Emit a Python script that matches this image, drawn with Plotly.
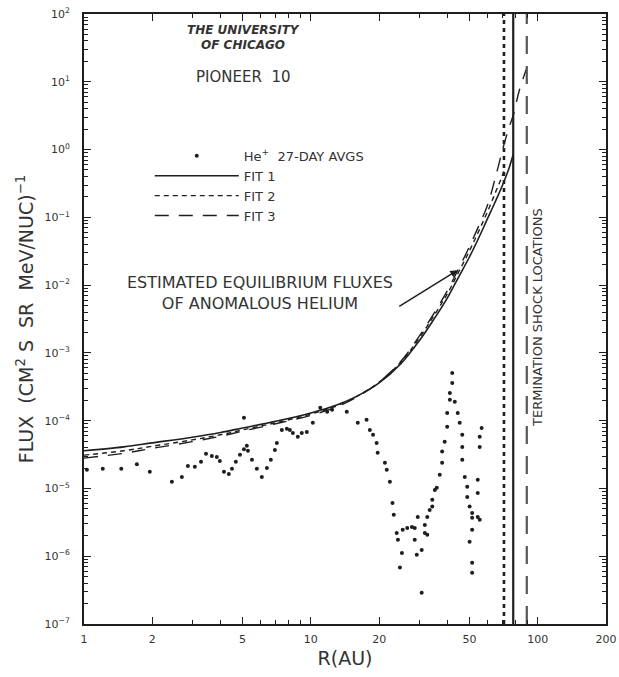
import plotly.graph_objects as go

# ---------------- data ----------------
he_r = [1.03, 1.21, 1.46, 1.71, 1.95, 2.44, 2.70, 2.87, 3.08, 3.28, 3.45, 3.66, 3.85, 3.97,
        4.14, 4.35, 4.49, 4.67, 4.87, 5.07, 5.22, 5.28, 5.50, 5.78, 6.08, 6.40, 6.66, 6.94,
        7.08, 7.45, 5.07,
        7.84, 8.08, 8.33, 8.76, 9.12, 9.60, 10.2, 11.0, 11.8, 12.4, 14.4, 16.1, 17.6, 18.2,
        18.8, 19.5, 19.7, 21.2, 21.6, 22.3, 22.9, 23.2, 23.9, 24.2, 24.7, 25.2, 25.4, 26.6,
        27.9, 28.7, 29.3, 29.6, 28.7, 30.8, 30.8, 31.8, 32.6, 32.6, 33.4, 34.3, 34.3, 35.2,
        31.8,
        35.9, 37.0, 37.9, 37.9, 38.9, 39.9, 39.9, 41.0, 41.0, 42.0, 42.0,
        43.1, 44.4, 45.3, 46.5, 46.5, 46.5, 47.7, 48.9, 48.9, 50.1, 51.4, 51.4, 54.4, 55.5,
        51.4, 50.1, 51.4, 51.4,
        56.6, 55.5, 55.5, 54.4, 54.4]
he_flux = [1.88e-5, 1.95e-5, 1.95e-5, 2.27e-5, 1.76e-5, 1.26e-5, 1.48e-5, 2.15e-5, 2.09e-5,
           2.47e-5, 3.24e-5, 3.0e-5, 2.9e-5, 2.55e-5, 1.76e-5, 1.64e-5, 1.95e-5, 2.47e-5,
           3.13e-5, 3.8e-5, 4.25e-5, 3.6e-5, 2.64e-5, 1.95e-5, 1.48e-5, 2.0e-5, 2.64e-5,
           3.7e-5, 4.7e-5, 7.3e-5, 1.1e-4,
           7.6e-5, 7.3e-5, 6.6e-5, 5.8e-5, 6.6e-5, 6.8e-5, 9.3e-5, 1.55e-4, 1.35e-4, 1.45e-4,
           1.35e-4, 9.3e-5, 1.03e-4, 7.3e-5, 6.2e-5, 4.7e-5, 3.35e-5, 2.39e-5, 1.88e-5,
           1.26e-5, 6.1e-6, 4.1e-6, 2.2e-6, 1.75e-6, 6.8e-7, 1.12e-6, 2.45e-6, 2.6e-6,
           2.7e-6, 1.75e-6, 1.05e-6, 3.8e-6, 2.6e-6, 1.24e-6, 2.9e-7, 2.2e-6, 2.07e-6,
           3.8e-6, 4.8e-6, 6.8e-6, 5.4e-6, 9.5e-6,
           2.9e-6,
           1.02e-5, 1.59e-5, 2.39e-5, 3.5e-5, 4.9e-5, 8.1e-5, 1.3e-4, 2.03e-4, 2.57e-4,
           3.6e-4, 5.07e-4,
           1.9e-4, 1.3e-4, 9.3e-5, 6.2e-5, 4.1e-5, 2.64e-5, 1.48e-5, 1.06e-5, 7.5e-6,
           5.4e-6, 4.35e-6, 3.7e-6, 3.8e-6, 3.45e-6,
           2.45e-6, 1.63e-6, 8.0e-7, 5.7e-7,
           7.8e-5, 5.8e-5, 4.1e-5, 1.34e-5, 8.6e-6]

fit1_r = [1, 1.5, 2, 3, 4, 5, 7, 10, 13, 16, 20, 25, 30, 35, 40, 45, 50, 55, 60, 65, 70, 75, 78]
fit1_flux = [3.6e-5, 4.1e-5, 4.7e-5, 5.7e-5, 6.7e-5, 7.8e-5, 9.8e-5, 1.3e-4, 1.7e-4, 2.3e-4,
             3.6e-4, 7e-4, 1.5e-3, 3.2e-3, 6.5e-3, 0.0135, 0.026, 0.05, 0.095, 0.17, 0.3,
             0.55, 0.85]

fit2_r = [1, 1.5, 2, 3, 4, 5, 7, 10, 13, 16, 20, 25, 30, 35, 40, 45, 50, 55, 60, 65, 70, 71]
fit2_flux = [3.1e-5, 3.6e-5, 4.2e-5, 5.2e-5, 6.2e-5, 7.3e-5, 9.3e-5, 1.25e-4, 1.65e-4, 2.3e-4,
             3.7e-4, 7.4e-4, 1.65e-3, 3.6e-3, 7.5e-3, 0.016, 0.032, 0.063, 0.12, 0.23, 0.42,
             0.5]

fit3_r = [1, 1.5, 2, 3, 4, 5, 7, 10, 13, 16, 20, 25, 30, 35, 40, 45, 50, 55, 60, 65, 70, 75,
          78, 83, 89.5]
fit3_flux = [2.8e-5, 3.3e-5, 3.9e-5, 4.9e-5, 5.9e-5, 7.0e-5, 9.0e-5, 1.2e-4, 1.6e-4, 2.25e-4,
             3.7e-4, 7.6e-4, 1.75e-3, 3.9e-3, 8.3e-3, 0.018, 0.037, 0.075, 0.15, 0.38, 1.0,
             2.2, 3.2, 7.5, 16]

shock_r = [78, 71, 89.5]          # Fit 1, Fit 2, Fit 3 termination shock locations
y_span = [1e-7, 1e2]

x_tickvals = [1, 2, 5, 10, 20, 50, 100, 200]
x_ticktext = ["1", "2", "5", "10", "20", "50", "100", "200"]
y_exponents = [2, 1, 0, -1, -2, -3, -4, -5, -6, -7]

# ---------------- figure ----------------
INK = "#1e1e1e"
TXT = "#333333"
FONT = "DejaVu Sans"

fig = go.Figure()

fig.add_trace(go.Scatter(x=he_r, y=he_flux, mode="markers", name="He<sup>+</sup>  27-DAY AVGS",
                         marker=dict(color=INK, size=4, symbol="circle")))
fig.add_trace(go.Scatter(x=fit1_r, y=fit1_flux, mode="lines", name="FIT 1",
                         line=dict(color=INK, width=1.6, shape="spline", dash="solid")))
fig.add_trace(go.Scatter(x=fit2_r, y=fit2_flux, mode="lines", name="FIT 2",
                         line=dict(color=INK, width=1.4, shape="spline", dash="5px,4px")))
fig.add_trace(go.Scatter(x=fit3_r, y=fit3_flux, mode="lines", name="FIT 3",
                         line=dict(color=INK, width=1.4, shape="spline", dash="14px,10px")))

shock_styles = ["solid", "4px,4px", "18px,12px"]
shock_widths = [2.2, 2.6, 2.2]
shock_colors = [INK, INK, "#555555"]
for r, d, w, c in zip(shock_r, shock_styles, shock_widths, shock_colors):
    fig.add_trace(go.Scatter(x=[r, r], y=y_span, mode="lines", showlegend=False,
                             hoverinfo="skip", line=dict(color=c, width=w, dash=d)))

minor_x = [m * 10 ** e for e in range(0, 3) for m in range(1, 10)]
minor_x = [v for v in minor_x if 1 <= v <= 200 and v not in x_tickvals]
minor_y = [m * 10.0 ** e for e in range(-7, 2) for m in range(2, 10)]

axis_common = dict(showgrid=False, zeroline=False, showline=True, linecolor=INK, linewidth=2,
                   mirror="allticks", ticks="inside", tickcolor=INK, tickwidth=1.3, ticklen=7,
                   automargin=False, tickfont=dict(family=FONT, size=11, color=TXT))

fig.update_xaxes(type="log", range=[0, 2.30103], tickvals=x_tickvals, ticktext=x_ticktext,
                 minor=dict(tickvals=minor_x, ticks="inside", ticklen=4, tickcolor=INK, tickwidth=1),
                 title=dict(text="R(AU)", font=dict(family=FONT, size=19, color=TXT), standoff=6),
                 ticklabelstandoff=4, **axis_common)
fig.update_yaxes(type="log", range=[-7, 2],
                 tickvals=[10.0 ** e for e in y_exponents],
                 ticktext=["10<sup>%s</sup>" % (str(e).replace("-", "−")) for e in y_exponents],
                 minor=dict(tickvals=minor_y, ticks="inside", ticklen=4, tickcolor=INK, tickwidth=1),
                 title=dict(text="FLUX  (CM<sup>2</sup> S  SR  MeV/NUC)<sup>−1</sup>",
                            font=dict(family=FONT, size=19, color=TXT), standoff=6),
                 ticklabelstandoff=10, **axis_common)

fig.update_layout(
    width=619, height=677,
    margin=dict(l=84, r=13, t=14, b=53, autoexpand=False),
    paper_bgcolor="white", plot_bgcolor="white",
    font=dict(family=FONT, color=TXT),
    showlegend=True,
    legend=dict(x=0.126, y=0.792, xanchor="left", yanchor="top", bgcolor="rgba(0,0,0,0)",
                font=dict(family=FONT, size=13, color=TXT), itemwidth=84, tracegroupgap=0),
    annotations=[
        dict(text="<b><i>THE UNIVERSITY</i></b>", xref="paper", yref="paper", x=0.305, y=0.974,
             xanchor="center", yanchor="middle", showarrow=False,
             font=dict(family=FONT, size=12, color=TXT)),
        dict(text="<b><i>OF CHICAGO</i></b>", xref="paper", yref="paper", x=0.305, y=0.949,
             xanchor="center", yanchor="middle", showarrow=False,
             font=dict(family=FONT, size=12, color=TXT)),
        dict(text="PIONEER  10", xref="paper", yref="paper", x=0.305, y=0.897,
             xanchor="center", yanchor="middle", showarrow=False,
             font=dict(family=FONT, size=15, color=TXT)),
        dict(text="ESTIMATED EQUILIBRIUM FLUXES<br>OF ANOMALOUS HELIUM", xref="paper",
             yref="paper", x=0.337, y=0.543, xanchor="center", yanchor="middle",
             showarrow=False, align="center", font=dict(family=FONT, size=16, color=TXT)),
        dict(text="", x=1.6476, y=-1.78, xref="x", yref="y", showarrow=True, arrowhead=2,
             arrowsize=1, arrowwidth=1.5, arrowcolor=INK, ax=-60, ay=37),
        dict(text="TERMINATION SHOCK LOCATIONS", xref="paper", yref="paper", x=0.870, y=0.502,
             xanchor="center", yanchor="middle", showarrow=False, textangle=-90,
             font=dict(family=FONT, size=13, color=TXT)),
    ],
)

fig.write_html("out.html")
